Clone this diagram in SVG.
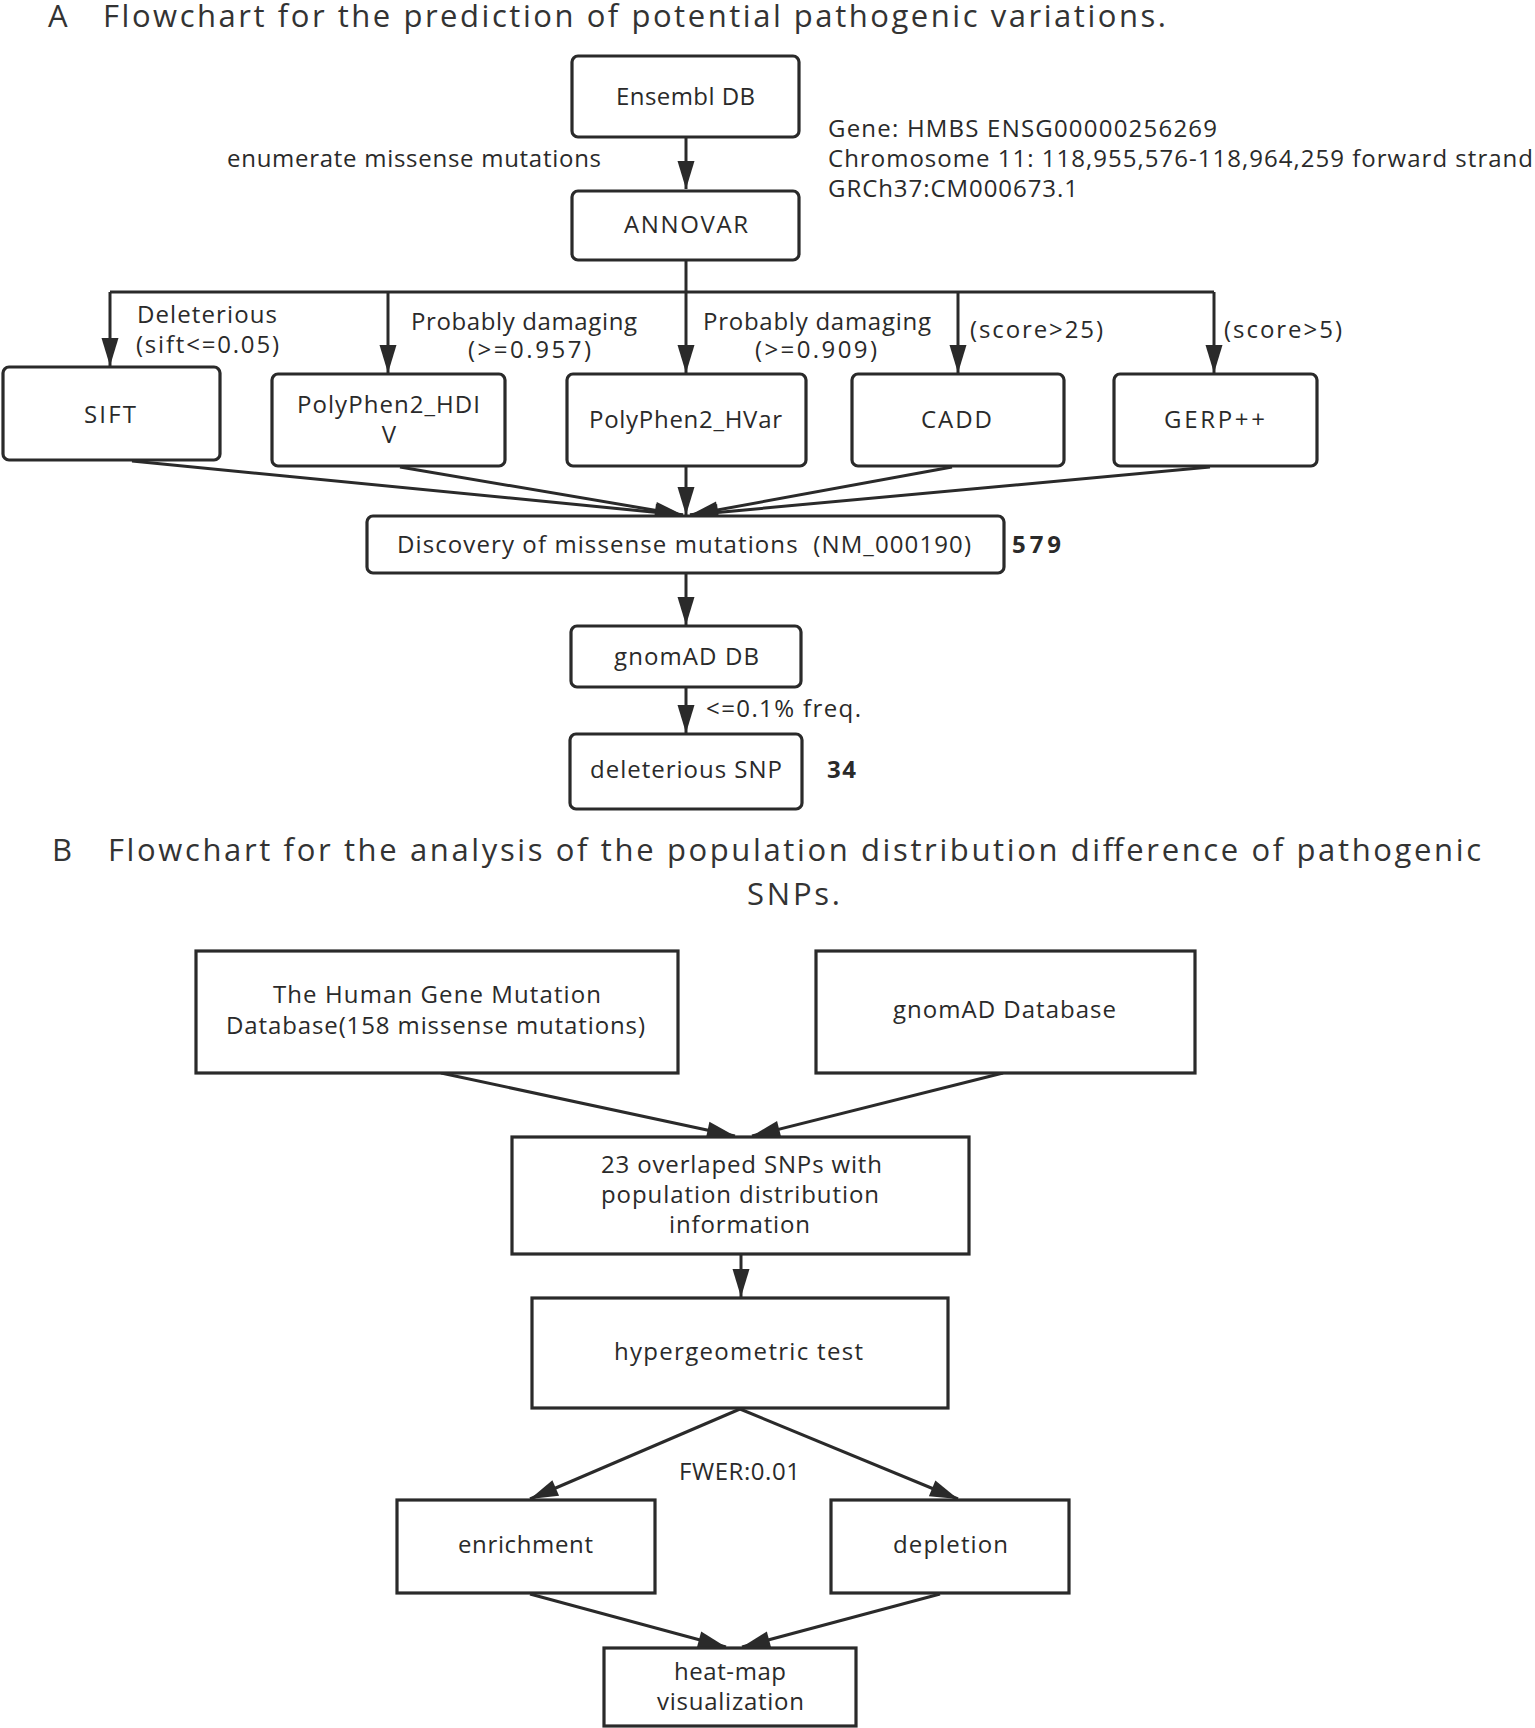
<svg xmlns="http://www.w3.org/2000/svg" width="1535" height="1728" viewBox="0 0 1535 1728">
<defs>
<style>
text{font-family:"Open Sans","Noto Sans","Liberation Sans",sans-serif;font-size:24px;fill:#2a2a2a}
.t{font-size:31px;fill:#333}
.b{font-weight:bold}
.ra{fill:#fff;stroke:#2a2a2a;stroke-width:3.2}
.sq{fill:#fff;stroke:#2a2a2a;stroke-width:3.2}
.c{fill:none;stroke:#2a2a2a;stroke-width:3;marker-end:url(#ah)}
.n{fill:none;stroke:#2a2a2a;stroke-width:3}
</style>
<marker id="ah" markerUnits="userSpaceOnUse" markerWidth="28" markerHeight="17" refX="28" refY="8.5" orient="auto" overflow="visible">
<path d="M0,0 L28,8.5 L0,17 Z" fill="#2a2a2a"/>
</marker>
</defs>
<rect width="1535" height="1728" fill="#fff"/>

<g id="titleA">
<text class="t" x="48" y="27">A</text>
<text class="t" x="103" y="27" textLength="1063" lengthAdjust="spacing">Flowchart for the prediction of potential pathogenic variations.</text>
</g>

<g id="connectors">
<path class="c" d="M686,137 L686,189"/>
<path class="c" d="M686,260 L686,373"/>
<path class="n" d="M110,292 L1214,292"/>
<path class="c" d="M110,292 L110,366"/>
<path class="c" d="M388,292 L388,373"/>
<path class="c" d="M958,292 L958,373"/>
<path class="c" d="M1214,292 L1214,373"/>
<path class="c" d="M132,461 L683,515"/>
<path class="c" d="M400,467 L683,515"/>
<path class="c" d="M686,466 L686,515"/>
<path class="c" d="M952,467 L690,515"/>
<path class="c" d="M1210,467 L690,515"/>
<path class="c" d="M686,573 L686,625"/>
<path class="c" d="M686,687 L686,733"/>
<path class="c" d="M441,1073 L735,1136"/>
<path class="c" d="M1003,1073 L752,1136"/>
<path class="c" d="M741,1254 L741,1297"/>
<path class="c" d="M740,1409 L530,1499"/>
<path class="c" d="M740,1409 L958,1499"/>
<path class="c" d="M530,1594 L726,1647"/>
<path class="c" d="M940,1594 L742,1647"/>
</g>

<g id="labelsA">
<text x="227" y="167" textLength="374" lengthAdjust="spacing">enumerate missense mutations</text>
<text x="828" y="137" textLength="389" lengthAdjust="spacing">Gene: HMBS ENSG00000256269</text>
<text x="828" y="167" textLength="705" lengthAdjust="spacing">Chromosome 11: 118,955,576-118,964,259 forward strand</text>
<text x="828" y="197" textLength="250" lengthAdjust="spacing">GRCh37:CM000673.1</text>
<text x="137" y="323" textLength="140" lengthAdjust="spacing">Deleterious</text>
<text x="136" y="353" textLength="143" lengthAdjust="spacing">(sift&lt;=0.05)</text>
<text x="411" y="330" textLength="226" lengthAdjust="spacing">Probably damaging</text>
<text x="468" y="358" textLength="123" lengthAdjust="spacing">(&gt;=0.957)</text>
<text x="703" y="330" textLength="228" lengthAdjust="spacing">Probably damaging</text>
<text x="755" y="358" textLength="122" lengthAdjust="spacing">(&gt;=0.909)</text>
<text x="970" y="338" textLength="133" lengthAdjust="spacing">(score&gt;25)</text>
<text x="1224" y="338" textLength="118" lengthAdjust="spacing">(score&gt;5)</text>
<text class="b" x="1012" y="553" textLength="49" lengthAdjust="spacing">579</text>
<text x="706" y="717" textLength="155" lengthAdjust="spacing">&lt;=0.1% freq.</text>
<text class="b" x="827" y="778" textLength="29" lengthAdjust="spacing">34</text>
</g>

<g id="ensembl">
<rect class="ra" x="572" y="56" width="227" height="81" rx="6"/>
<text x="616" y="105" textLength="139" lengthAdjust="spacing">Ensembl DB</text>
</g>
<g id="annovar">
<rect class="ra" x="572" y="191" width="227" height="69" rx="6"/>
<text x="624" y="233" textLength="124" lengthAdjust="spacing">ANNOVAR</text>
</g>
<g id="sift">
<rect class="ra" x="3" y="367" width="217" height="93" rx="6"/>
<text x="84" y="423" textLength="52" lengthAdjust="spacing">SIFT</text>
</g>
<g id="hdiv">
<rect class="ra" x="272" y="374" width="233" height="92" rx="6"/>
<text x="297" y="413" textLength="183" lengthAdjust="spacing">PolyPhen2_HDI</text>
<text x="389" y="443" text-anchor="middle">V</text>
</g>
<g id="hvar">
<rect class="ra" x="567" y="374" width="239" height="92" rx="6"/>
<text x="589" y="428" textLength="193" lengthAdjust="spacing">PolyPhen2_HVar</text>
</g>
<g id="cadd">
<rect class="ra" x="852" y="374" width="212" height="92" rx="6"/>
<text x="921" y="428" textLength="71" lengthAdjust="spacing">CADD</text>
</g>
<g id="gerp">
<rect class="ra" x="1114" y="374" width="203" height="92" rx="6"/>
<text x="1164" y="428" textLength="101" lengthAdjust="spacing">GERP++</text>
</g>
<g id="discovery">
<rect class="ra" x="367" y="516" width="637" height="57" rx="6"/>
<text x="397" y="553" textLength="574" lengthAdjust="spacing">Discovery of missense mutations&#160; (NM_000190)</text>
</g>
<g id="gnomaddb">
<rect class="ra" x="571" y="626" width="230" height="61" rx="6"/>
<text x="614" y="665" textLength="145" lengthAdjust="spacing">gnomAD DB</text>
</g>
<g id="delsnp">
<rect class="ra" x="570" y="734" width="232" height="75" rx="6"/>
<text x="590" y="778" textLength="192" lengthAdjust="spacing">deleterious SNP</text>
</g>

<g id="titleB">
<text class="t" x="52" y="861">B</text>
<text class="t" x="108" y="861" textLength="1373" lengthAdjust="spacing">Flowchart for the analysis of the population distribution difference of pathogenic</text>
<text class="t" x="747" y="905" textLength="93" lengthAdjust="spacing">SNPs.</text>
</g>

<g id="hgmd">
<rect class="sq" x="196" y="951" width="482" height="122"/>
<text x="273" y="1003" textLength="328" lengthAdjust="spacing">The Human Gene Mutation</text>
<text x="226" y="1034" textLength="419" lengthAdjust="spacing">Database(158 missense mutations)</text>
</g>
<g id="gnomaddatabase">
<rect class="sq" x="816" y="951" width="379" height="122"/>
<text x="893" y="1018" textLength="223" lengthAdjust="spacing">gnomAD Database</text>
</g>
<g id="overlap">
<rect class="sq" x="512" y="1137" width="457" height="117"/>
<text x="601" y="1173" textLength="281" lengthAdjust="spacing">23 overlaped SNPs with</text>
<text x="601" y="1203" textLength="278" lengthAdjust="spacing">population distribution</text>
<text x="669" y="1233" textLength="141" lengthAdjust="spacing">information</text>
</g>
<g id="hyper">
<rect class="sq" x="532" y="1298" width="416" height="110"/>
<text x="614" y="1360" textLength="249" lengthAdjust="spacing">hypergeometric test</text>
</g>
<g id="fwer">
<text x="679" y="1480" textLength="121" lengthAdjust="spacing">FWER:0.01</text>
</g>
<g id="enrichment">
<rect class="sq" x="397" y="1500" width="258" height="93"/>
<text x="458" y="1553" textLength="135" lengthAdjust="spacing">enrichment</text>
</g>
<g id="depletion">
<rect class="sq" x="831" y="1500" width="238" height="93"/>
<text x="893" y="1553" textLength="115" lengthAdjust="spacing">depletion</text>
</g>
<g id="heatmap">
<rect class="sq" x="604" y="1648" width="252" height="78"/>
<text x="674" y="1680" textLength="112" lengthAdjust="spacing">heat-map</text>
<text x="657" y="1710" textLength="147" lengthAdjust="spacing">visualization</text>
</g>
</svg>
